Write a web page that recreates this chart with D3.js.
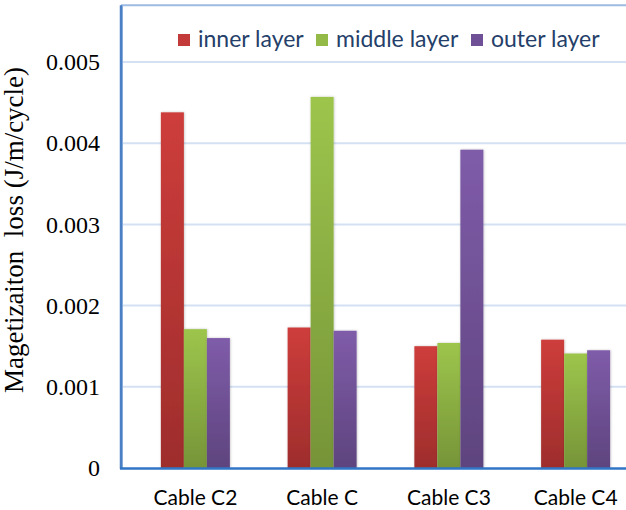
<!DOCTYPE html>
<html>
<head>
<meta charset="utf-8">
<script src="https://cdn.jsdelivr.net/npm/d3@7"></script>
<style>
  html, body { margin: 0; padding: 0; background: #fff; }
  svg { display: block; }
</style>
</head>
<body>
<svg id="chart" width="626" height="510"></svg>
<script>
const categories = ["Cable C2", "Cable C", "Cable C3", "Cable C4"];
const seriesNames = ["inner layer", "middle layer", "outer layer"];
const innerLayer  = [0.00438, 0.00173, 0.00150, 0.00158];
const middleLayer = [0.00171, 0.00457, 0.00154, 0.00141];
const outerLayer  = [0.00160, 0.00169, 0.00392, 0.00145];
const yTicks = [0, 0.001, 0.002, 0.003, 0.004, 0.005];
const yTickLabels = ["0", "0.001", "0.002", "0.003", "0.004", "0.005"];
const yTitle = "Magetizaiton  loss (J/m/cycle)";

const seriesValues = [innerLayer, middleLayer, outerLayer];
const colors = [
  {top: "#cd3d3b", bottom: "#9e2d2c", key: "#c23a39"},
  {top: "#9dc54c", bottom: "#769438", key: "#93b947"},
  {top: "#7f5ca9", bottom: "#5e447e", key: "#6f5096"}
];

const svg = d3.select("#chart");
const defs = svg.append("defs");
colors.forEach((c, i) => {
  const g = defs.append("linearGradient").attr("id", "grad" + i)
    .attr("x1", 0).attr("y1", 0).attr("x2", 0).attr("y2", 1);
  g.append("stop").attr("offset", "0%").attr("stop-color", c.top);
  g.append("stop").attr("offset", "100%").attr("stop-color", c.bottom);
});
const f = defs.append("filter").attr("id", "shadow").attr("x", "-20%").attr("y", "-5%").attr("width", "140%").attr("height", "110%");
f.append("feDropShadow").attr("dx", 0.5).attr("dy", 0).attr("stdDeviation", 1).attr("flood-color", "#000").attr("flood-opacity", 0.25);

const plotLeft = 121, plotRight = 640, zeroY = 468;
const y = d3.scaleLinear().domain([0, 0.005]).range([zeroY, 62]);
const x0 = d3.scaleBand().domain(categories).range([132, 639]).paddingInner(0.4556).paddingOuter(0.2278);
const x1 = d3.scaleBand().domain(seriesNames).range([0, x0.bandwidth()]);

// frame (light)
svg.append("path")
  .attr("d", `M${plotLeft + 1},${zeroY} V${y(0.0057)} H${plotRight}`)
  .attr("fill", "none").attr("stroke", "#9dbbe3").attr("stroke-width", 2);

// gridlines
svg.append("g").selectAll("line").data(yTicks.filter(t => t > 0)).join("line")
  .attr("x1", plotLeft + 2).attr("x2", plotRight)
  .attr("y1", d => y(d)).attr("y2", d => y(d))
  .attr("stroke", "#d3e1f3").attr("stroke-width", 2);

// bars
const groups = svg.append("g").selectAll("g").data(categories).join("g")
  .attr("transform", d => `translate(${x0(d)},0)`);
groups.selectAll("rect").data((d, ci) => seriesNames.map((s, si) => ({s, si, v: seriesValues[si][ci]}))).join("rect")
  .attr("x", d => x1(d.s))
  .attr("width", x1.bandwidth())
  .attr("y", d => y(d.v))
  .attr("height", d => zeroY - y(d.v))
  .attr("fill", d => `url(#grad${d.si})`)
  .attr("filter", "url(#shadow)");

// y axis
const yAxis = d3.axisLeft(y).tickValues(yTicks).tickFormat((d, i) => yTickLabels[i]).tickSize(0).tickPadding(21);
const yg = svg.append("g").attr("transform", `translate(${plotLeft},0)`).call(yAxis);
yg.select(".domain").remove();
yg.selectAll("text").attr("font-family", "'Liberation Serif', 'Times New Roman', serif").attr("font-size", 24).attr("fill", "#000").attr("dy", "0.32em");

svg.append("line").attr("x1", plotLeft).attr("x2", plotLeft).attr("y1", y(0.0057)).attr("y2", zeroY + 1)
  .attr("stroke", "#4a7fc4").attr("stroke-width", 2.5);

// x axis
const xAxis = d3.axisBottom(x0).tickSize(0).tickPadding(22);
const xg = svg.append("g").attr("transform", `translate(0,${zeroY})`).call(xAxis);
xg.select(".domain").remove();
xg.selectAll("text").attr("font-family", "Lato, 'Open Sans', sans-serif").attr("font-size", 21).attr("fill", "#000");
svg.append("line").attr("x1", plotLeft - 1).attr("x2", 626).attr("y1", zeroY + 0.5).attr("y2", zeroY + 0.5)
  .attr("stroke", "#2f76c6").attr("stroke-width", 2.5);

// y title
svg.append("text").attr("transform", `translate(23,230) rotate(-90)`)
  .attr("text-anchor", "middle")
  .attr("font-family", "'Liberation Serif', 'Times New Roman', serif").attr("font-size", 27)
  .attr("fill", "#000").style("white-space", "pre").text(yTitle);

// legend
const legendX = [178, 316, 471];
const lg = svg.append("g").selectAll("g").data(seriesNames).join("g")
  .attr("transform", (d, i) => `translate(${legendX[i]},34)`);
lg.append("rect").attr("width", 12).attr("height", 12).attr("fill", (d, i) => colors[i].key);
lg.append("text").attr("x", 20).attr("y", 13)
  .attr("font-family", "Lato, 'Open Sans', sans-serif").attr("font-size", 23).attr("fill", "#253f6a")
  .text(d => d);
</script>
</body>
</html>
